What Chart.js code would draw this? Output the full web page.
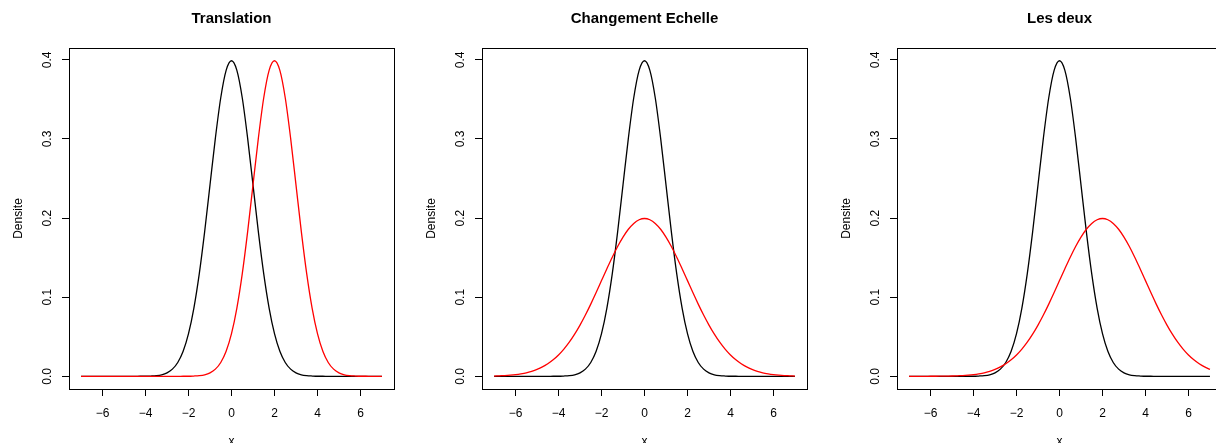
<html>

<head>
    <script src="https://cdn.jsdelivr.net/npm/chart.js@4"></script>
    <style>
        body {
            margin: 0;
            background: #fff;
            overflow: hidden;
            width: 1216px;
            height: 443px;
            position: relative;
        }

        canvas {
            position: absolute;
            top: 0;
        }
    </style>
</head>

<body>
    <canvas id="p1" width="420" height="443" style="left:0px"></canvas>
    <canvas id="p2" width="420" height="443" style="left:413px"></canvas>
    <canvas id="p3" width="420" height="443" style="left:828px"></canvas>
    <script>
        // x grid, step 0.25 from -7 to 7
        const xs = [-7, -6.75, -6.5, -6.25, -6, -5.75, -5.5, -5.25, -5, -4.75, -4.5, -4.25, -4, -3.75, -3.5, -3.25, -3, -2.75, -2.5, -2.25, -2, -1.75, -1.5, -1.25, -1, -0.75, -0.5, -0.25,
            0, 0.25, 0.5, 0.75, 1, 1.25, 1.5, 1.75, 2, 2.25, 2.5, 2.75, 3, 3.25, 3.5, 3.75, 4, 4.25, 4.5, 4.75, 5, 5.25, 5.5, 5.75, 6, 6.25, 6.5, 6.75, 7];

        // black curve, same in every panel
        const noir = [0, 0, 0, 0, 0, 0, 0, 0, 0, 0, 0, 0.0001, 0.0001, 0.0004, 0.0009, 0.0020, 0.0044, 0.0091, 0.0175, 0.0317, 0.0540, 0.0863, 0.1295, 0.1826, 0.2420, 0.3011, 0.3521, 0.3867,
            0.3989, 0.3867, 0.3521, 0.3011, 0.2420, 0.1826, 0.1295, 0.0863, 0.0540, 0.0317, 0.0175, 0.0091, 0.0044, 0.0020, 0.0009, 0.0004, 0.0001, 0.0001, 0, 0, 0, 0, 0, 0, 0, 0, 0, 0, 0];

        // red curves
        const rougeTranslation = [0, 0, 0, 0, 0, 0, 0, 0, 0, 0, 0, 0, 0, 0, 0, 0, 0, 0, 0, 0.0001, 0.0001, 0.0004, 0.0009, 0.0020, 0.0044, 0.0091, 0.0175, 0.0317,
            0.0540, 0.0863, 0.1295, 0.1826, 0.2420, 0.3011, 0.3521, 0.3867, 0.3989, 0.3867, 0.3521, 0.3011, 0.2420, 0.1826, 0.1295, 0.0863, 0.0540, 0.0317, 0.0175, 0.0091, 0.0044, 0.0020, 0.0009, 0.0004, 0.0001, 0.0001, 0, 0, 0];
        const rougeEchelle = [0.0004, 0.0007, 0.0010, 0.0015, 0.0022, 0.0032, 0.0045, 0.0064, 0.0088, 0.0119, 0.0159, 0.0209, 0.0270, 0.0344, 0.0431, 0.0533, 0.0648, 0.0775, 0.0913, 0.1059, 0.1210, 0.1360, 0.1506, 0.1641, 0.1760, 0.1859, 0.1933, 0.1979,
            0.1995, 0.1979, 0.1933, 0.1859, 0.1760, 0.1641, 0.1506, 0.1360, 0.1210, 0.1059, 0.0913, 0.0775, 0.0648, 0.0533, 0.0431, 0.0344, 0.0270, 0.0209, 0.0159, 0.0119, 0.0088, 0.0064, 0.0045, 0.0032, 0.0022, 0.0015, 0.0010, 0.0007, 0.0004];
        const rougeDeux = [0, 0, 0, 0, 0.0001, 0.0001, 0.0002, 0.0003, 0.0004, 0.0007, 0.0010, 0.0015, 0.0022, 0.0032, 0.0045, 0.0064, 0.0088, 0.0119, 0.0159, 0.0209, 0.0270, 0.0344, 0.0431, 0.0533, 0.0648, 0.0775, 0.0913, 0.1059,
            0.1210, 0.1360, 0.1506, 0.1641, 0.1760, 0.1859, 0.1933, 0.1979, 0.1995, 0.1979, 0.1933, 0.1859, 0.1760, 0.1641, 0.1506, 0.1360, 0.1210, 0.1059, 0.0913, 0.0775, 0.0648, 0.0533, 0.0431, 0.0344, 0.0270, 0.0209, 0.0159, 0.0119, 0.0088];

        const titres = ["Translation", "Changement Echelle", "Les deux"];
        const xTicks = [-6, -4, -2, 0, 2, 4, 6];
        const yTicks = [0, 0.1, 0.2, 0.3, 0.4];
        const yTickLabels = ["0.0", "0.1", "0.2", "0.3", "0.4"];

        const font = "'Liberation Sans', Arial, sans-serif";

        // R-like frame and texts
        const cadre = {
            id: 'cadre',
            afterDraw(chart, args, opts) {
                const c = chart.ctx, a = chart.chartArea, y = chart.scales.y;
                c.save();
                c.strokeStyle = '#000';
                c.lineWidth = 1;
                c.strokeRect(Math.round(a.left) + 0.5, Math.round(a.top) + 0.5, a.right - a.left, a.bottom - a.top);
                c.fillStyle = '#000';
                c.textAlign = 'center';
                c.textBaseline = 'middle';
                c.font = 'bold 15px ' + font;
                c.fillText(opts.titre, (a.left + a.right) / 2, 19);
                c.font = '12px ' + font;
                c.textBaseline = 'alphabetic';
                c.fillText('x', (a.left + a.right) / 2, 445);
                yTicks.forEach((v, i) => {
                    c.save();
                    c.translate(a.left - 21, y.getPixelForValue(v));
                    c.rotate(-Math.PI / 2);
                    c.textBaseline = 'middle';
                    c.fillText(yTickLabels[i], 0, 0);
                    c.restore();
                });
                c.save();
                c.translate(a.left - 50, (a.top + a.bottom) / 2);
                c.rotate(-Math.PI / 2);
                c.textBaseline = 'middle';
                c.fillText('Densite', 0, 0);
                c.restore();
                c.restore();
            }
        };

        function serie(ys, couleur, ordre) {
            return {
                data: xs.map((x, i) => ({ x: x, y: ys[i] })),
                borderColor: couleur,
                borderWidth: 1.3,
                pointRadius: 0,
                fill: false,
                order: ordre,
                cubicInterpolationMode: 'monotone'
            };
        }

        function panneau(id, titre, rouge) {
            new Chart(document.getElementById(id).getContext('2d'), {
                type: 'line',
                data: { datasets: [serie(noir, '#000000', 1), serie(rouge, '#ff0000', 0)] },
                options: {
                    responsive: false,
                    animation: false,
                    devicePixelRatio: 1,
                    layout: { padding: { left: 0, top: 48, right: 26, bottom: 0 } },
                    plugins: { legend: { display: false }, tooltip: { enabled: false }, cadre: { titre: titre } },
                    scales: {
                        x: {
                            type: 'linear', min: -7.56, max: 7.56,
                            afterBuildTicks: s => { s.ticks = xTicks.map(v => ({ value: v })); },
                            afterFit: s => { s.height = 54; },
                            grid: { drawOnChartArea: false, tickLength: 7, color: '#000' },
                            border: { display: true, color: '#000' },
                            ticks: {
                                padding: 10, color: '#000', font: { family: font, size: 12 },
                                maxRotation: 0, autoSkip: false,
                                callback: v => v < 0 ? '\u2212' + (-v) : '' + v
                            }
                        },
                        y: {
                            min: -0.016, max: 0.415,
                            afterBuildTicks: s => { s.ticks = yTicks.map(v => ({ value: v })); },
                            afterFit: s => { s.width = 69; },
                            grid: { drawOnChartArea: false, tickLength: 7, color: '#000' },
                            border: { display: true, color: '#000' },
                            ticks: { display: false }
                        }
                    }
                },
                plugins: [cadre]
            });
        }

        panneau('p1', titres[0], rougeTranslation);
        panneau('p2', titres[1], rougeEchelle);
        panneau('p3', titres[2], rougeDeux);
    </script>
</body>

</html>
